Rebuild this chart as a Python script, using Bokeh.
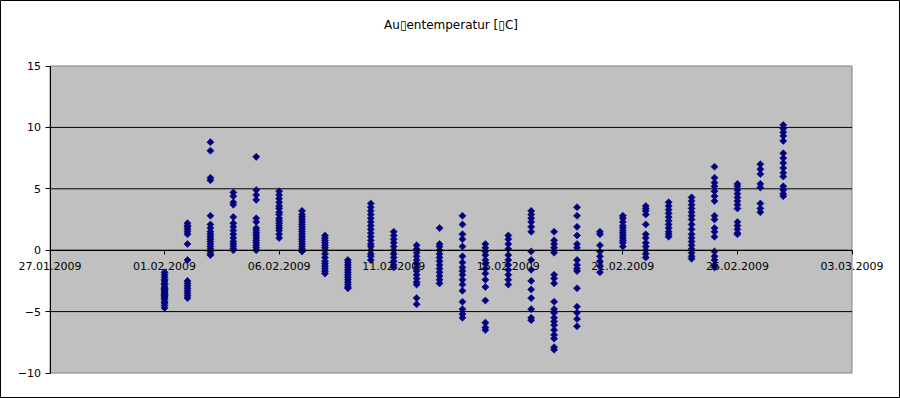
from datetime import datetime
import numpy as np
from bokeh.plotting import figure
from bokeh.models import Range1d, FixedTicker, ColumnDataSource, Label
from bokeh.embed import file_html
from bokeh.resources import INLINE

title_text = "Au\u25afentemperatur [\u25afC]"

x_tick_labels = ["27.01.2009", "01.02.2009", "06.02.2009", "11.02.2009",
                 "16.02.2009", "21.02.2009", "26.02.2009", "03.03.2009"]
y_ticks = [-10, -5, 0, 5, 10, 15]
y_grid = [-5, 0, 5, 10]

day_labels = ["01.02.2009", "02.02.2009", "03.02.2009", "04.02.2009", "05.02.2009",
              "06.02.2009", "07.02.2009", "08.02.2009", "09.02.2009", "10.02.2009",
              "11.02.2009", "12.02.2009", "13.02.2009", "14.02.2009", "15.02.2009",
              "16.02.2009", "17.02.2009", "18.02.2009", "19.02.2009", "20.02.2009",
              "21.02.2009", "22.02.2009", "23.02.2009", "24.02.2009", "25.02.2009",
              "26.02.2009", "27.02.2009", "28.02.2009"]

feb01 = [-1.8, -2.0, -2.2, -2.4, -2.5, -2.7, -2.8, -3.0, -3.1, -3.2, -3.3, -3.4,
         -3.5, -3.6, -3.7, -3.8, -3.9, -4.0, -4.2, -4.3, -4.5, -4.7]
feb02 = [2.2, 2.0, 1.9, 1.7, 1.5, 1.3, 0.5, -0.8, -2.5, -2.7, -2.9, -3.1, -3.3,
         -3.5, -3.7, -3.9]
feb03 = [8.8, 8.1, 5.9, 5.7, 2.8, 2.1, 1.8, 1.5, 1.3, 1.1, 0.9, 0.7, 0.5, 0.3,
         0.1, -0.1, -0.3, -0.4]
feb04 = [4.7, 4.4, 3.9, 3.7, 2.7, 2.2, 1.9, 1.6, 1.3, 1.0, 0.7, 0.5, 0.3, 0.1, 0.0]
feb05 = [7.6, 4.9, 4.5, 4.1, 2.6, 2.3, 1.8, 1.6, 1.4, 1.2, 1.0, 0.8, 0.6, 0.4,
         0.2, 0.0]
feb06 = [4.8, 4.5, 4.2, 3.9, 3.6, 3.4, 3.1, 2.9, 2.6, 2.4, 2.2, 2.0, 1.8, 1.6,
         1.3, 1.0]
feb07 = [3.2, 2.9, 2.7, 2.5, 2.3, 2.1, 1.9, 1.7, 1.5, 1.3, 1.1, 0.9, 0.7, 0.5,
         0.3, 0.1, -0.1]
feb08 = [1.2, 1.0, 0.8, 0.6, 0.4, 0.2, 0.0, -0.3, -0.6, -0.9, -1.1, -1.3, -1.5,
         -1.7, -1.9]
feb09 = [-0.8, -1.0, -1.2, -1.4, -1.6, -1.8, -2.0, -2.2, -2.4, -2.6, -2.8, -3.0,
         -3.1]
feb10 = [3.8, 3.5, 3.2, 2.9, 2.6, 2.3, 2.0, 1.7, 1.4, 1.1, 0.8, 0.5, 0.3, 0.0,
         -0.3, -0.5, -0.8]
feb11 = [1.5, 1.2, 0.9, 0.6, 0.3, 0.0, -0.3, -0.6, -0.9, -1.2, -1.4]
feb12 = [0.4, 0.1, -0.2, -0.5, -0.8, -1.1, -1.4, -1.7, -2.0, -2.3, -2.6, -2.8,
         -3.9, -4.4]
feb13 = [1.8, 0.5, 0.3, 0.0, -0.3, -0.6, -0.9, -1.2, -1.5, -1.8, -2.1, -2.4, -2.7]
feb14 = [2.8, 2.1, 1.3, 0.9, 0.3, -0.5, -1.0, -1.4, -1.7, -2.0, -2.4, -2.8, -3.3,
         -4.2, -4.8, -5.2, -5.5]
feb15 = [0.5, 0.2, -0.1, -0.4, -0.8, -1.1, -1.5, -1.9, -2.4, -3.0, -4.1, -5.9,
         -6.3, -6.5]
feb16 = [1.2, 0.9, 0.5, 0.1, -0.4, -0.8, -1.2, -1.6, -2.0, -2.4, -2.8]
feb17 = [3.2, 2.9, 2.6, 2.3, 1.9, 1.5, -0.1, -0.8, -1.6, -2.5, -3.2, -3.9, -4.8,
         -5.5, -5.7]
feb18 = [1.5, 0.8, 0.5, 0.2, -0.2, -2.0, -2.3, -2.7, -4.2, -4.8, -5.1, -5.5, -5.8,
         -6.1, -6.5, -6.9, -7.2, -7.9, -8.1]
feb19 = [3.5, 2.8, 1.9, 1.2, 0.5, 0.2, -0.8, -1.2, -1.5, -1.7, -3.1, -4.6, -5.1,
         -5.6, -6.2]
feb20 = [1.5, 1.3, 0.4, -0.1, -0.5, -0.9, -1.3, -1.8]
feb21 = [2.8, 2.6, 2.3, 2.0, 1.8, 1.6, 1.4, 1.2, 1.0, 0.8, 0.6, 0.3]
feb22 = [3.6, 3.4, 3.2, 2.9, 2.1, 1.3, 1.0, 0.6, 0.3, 0.0, -0.3, -0.6]
feb23 = [3.9, 3.6, 3.3, 3.0, 2.7, 2.4, 2.1, 1.8, 1.5, 1.3, 1.1]
feb24 = [4.3, 4.0, 3.7, 3.4, 3.1, 2.8, 2.5, 2.1, 1.7, 1.3, 1.0, 0.7, 0.4, 0.1,
         -0.2, -0.5, -0.7]
feb25 = [6.8, 5.9, 5.5, 5.2, 4.8, 4.4, 4.0, 2.8, 2.5, 1.8, 1.5, 1.1, -0.1, -0.5,
         -0.8, -1.2, -1.4]
feb26 = [5.4, 5.2, 4.9, 4.6, 4.3, 4.0, 3.7, 3.4, 2.3, 2.0, 1.7, 1.4, 1.3]
feb27 = [7.0, 6.6, 6.2, 5.4, 5.1, 3.8, 3.4, 3.1]
feb28 = [10.2, 9.9, 9.6, 9.3, 8.9, 7.9, 7.5, 7.1, 6.7, 6.3, 6.0, 5.2, 4.9, 4.6, 4.4]

temps_by_day = [feb01, feb02, feb03, feb04, feb05, feb06, feb07, feb08, feb09, feb10,
                feb11, feb12, feb13, feb14, feb15, feb16, feb17, feb18, feb19, feb20,
                feb21, feb22, feb23, feb24, feb25, feb26, feb27, feb28]

fmt = "%d.%m.%Y"
origin = datetime.strptime(x_tick_labels[0], fmt)


def day_pos(label):
    return (datetime.strptime(label, fmt) - origin).days


xs, ys = [], []
for lab, vals in zip(day_labels, temps_by_day):
    for v in vals:
        xs.append(day_pos(lab))
        ys.append(v)
source = ColumnDataSource(data=dict(x=xs, y=ys))

x_tick_pos = [day_pos(t) for t in x_tick_labels]
x0, x1 = x_tick_pos[0], x_tick_pos[-1]
y0, y1 = y_ticks[0], y_ticks[-1]

# ---- layout (pixels on the 900x398 canvas) ----
W, H = 900, 398
AREA_L, AREA_R, AREA_T, AREA_B = 49.5, 851.5, 65.5, 372.5
TITLE_BASELINE = 24

px_per_x = (AREA_R - AREA_L) / (x1 - x0)
px_per_y = (AREA_B - AREA_T) / (y1 - y0)
xr = Range1d(x0 - AREA_L / px_per_x, x1 + (W - AREA_R) / px_per_x)
yr = Range1d(y0 - (H - AREA_B) / px_per_y, y1 + AREA_T / px_per_y)

p = figure(width=W, height=H, output_backend="svg", toolbar_location=None,
           x_range=xr, y_range=yr, min_border=0,
           background_fill_color="white", border_fill_color="white",
           outline_line_color="black", outline_line_width=1)

# plot area (grey)
p.quad(left=[x0], right=[x1], bottom=[y0], top=[y1], fill_color="#C0C0C0",
       line_color="#808080", line_width=1, level="image")

# horizontal gridlines, limited to the plot area
p.segment(x0=[x0] * len(y_grid), x1=[x1] * len(y_grid), y0=y_grid, y1=y_grid,
          line_color="black", line_width=1, level="underlay")

p.scatter("x", "y", source=source, marker="square", angle=np.pi / 4, size=5,
          fill_color="#000080", line_color="#000080", line_width=0.6)

# title
p.add_layout(Label(x=(x0 + x1) / 2, y=yr.end - TITLE_BASELINE / px_per_y,
                   text=title_text, text_align="center",
                   text_baseline="alphabetic", text_font="DejaVu Sans",
                   text_font_size="12px", text_color="black"))

xa = p.xaxis[0]
xa.ticker = FixedTicker(ticks=x_tick_pos)
xa.major_label_overrides = {pos: lab for pos, lab in zip(x_tick_pos, x_tick_labels)}
xa.fixed_location = 0
xa.bounds = (x0, x1)
xa.minor_tick_line_color = None
xa.major_tick_out = 4
xa.major_tick_in = 0
xa.axis_line_color = "black"
xa.major_tick_line_color = "black"
xa.major_label_text_font = "DejaVu Sans"
xa.major_label_text_font_size = "11px"
xa.major_label_text_color = "black"
xa.major_label_standoff = 8

ya = p.yaxis[0]
ya.ticker = FixedTicker(ticks=y_ticks)
ya.fixed_location = x0
ya.bounds = (y0, y1)
ya.minor_tick_line_color = None
ya.major_tick_out = 5
ya.major_tick_in = 0
ya.axis_line_color = "black"
ya.major_tick_line_color = "black"
ya.major_label_text_font = "DejaVu Sans"
ya.major_label_text_font_size = "11px"
ya.major_label_text_color = "black"
ya.major_label_standoff = 4

p.xgrid.visible = False
p.ygrid.visible = False

open("out.html", "w").write(file_html(p, INLINE))
